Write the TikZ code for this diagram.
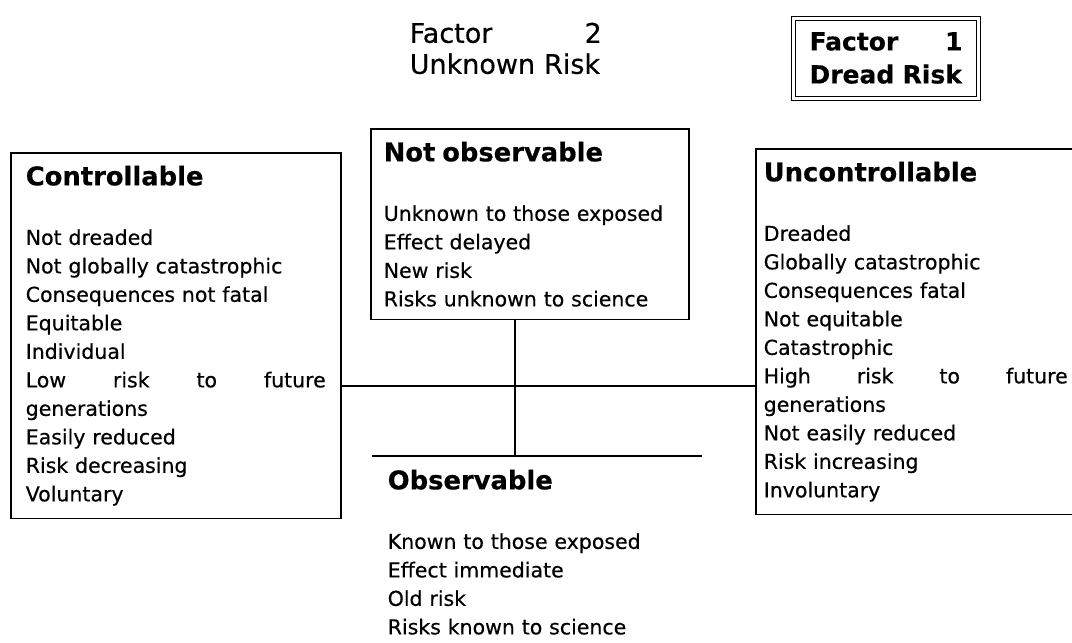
\documentclass[tikz,border=0pt]{standalone}
\usepackage{fontspec}
\setmainfont{DejaVu Sans}[FakeBold=0.4]

\newcommand{\boxtitle}[1]{{\fontsize{25.8}{28.5}\selectfont\bfseries #1}\\[31pt]}

\begin{document}
\begin{tikzpicture}[x=1pt, y=-1pt, line width=1.5pt,
  riskbox/.style={draw, anchor=north west, align=left, inner ysep=13pt,
    font=\fontsize{20.5}{28.5}\selectfont},
  factorlbl/.style={anchor=north west, align=left, inner sep=0pt}]

\path[use as bounding box] (0,0) rectangle (1072,643);
\clip (0,0) rectangle (1072,643);

% factors

\node[factorlbl, text width=192pt, font=\fontsize{27}{31}\selectfont] (fac2) at (409,22) {Factor\hfill 2\\Unknown Risk};
\node[draw, double, double distance=3pt, line width=1pt, align=left, text width=153pt, inner xsep=16pt, minimum height=80pt,
  font=\fontsize{25}{33}\selectfont\bfseries] (fac1) at (886,58) {Factor\hfill 1\\Dread Risk};

% boxes

\node[riskbox, inner xsep=13pt, text width=292pt] (notobs) at (370,128) {\boxtitle{Not observable}
Unknown to those exposed\\
Effect delayed\\
New risk\\
Risks unknown to science};

\node[riskbox, inner xsep=15pt, text width=300pt] (ctrl) at (10,152) {\boxtitle{Controllable}
Not dreaded\\
Not globally catastrophic\\
Consequences not fatal\\
Equitable\\
Individual\\
Low\hfill risk\hfill to\hfill future\\
generations\\
Easily reduced\\
Risk decreasing\\
Voluntary};

\node[riskbox, inner xsep=8pt, text width=304pt] (unctrl) at (755,148) {\boxtitle{Uncontrollable}
Dreaded\\
Globally catastrophic\\
Consequences fatal\\
Not equitable\\
Catastrophic\\
High\hfill risk\hfill to\hfill future\\
generations\\
Not easily reduced\\
Risk increasing\\
Involuntary};

\node[riskbox, draw=none, inner xsep=15pt, text width=298pt] (obs) at (372,456) {\boxtitle{Observable}
Known to those exposed\\
Effect immediate\\
Old risk\\
Risks known to science};

% edges

\coordinate (cross) at (515,386);
\draw (obs.north west) -- (obs.north east);
\draw (ctrl.east |- cross) -- (unctrl.west |- cross);
\draw (notobs.south -| cross) -- (obs.north -| cross);

\end{tikzpicture}
\end{document}
